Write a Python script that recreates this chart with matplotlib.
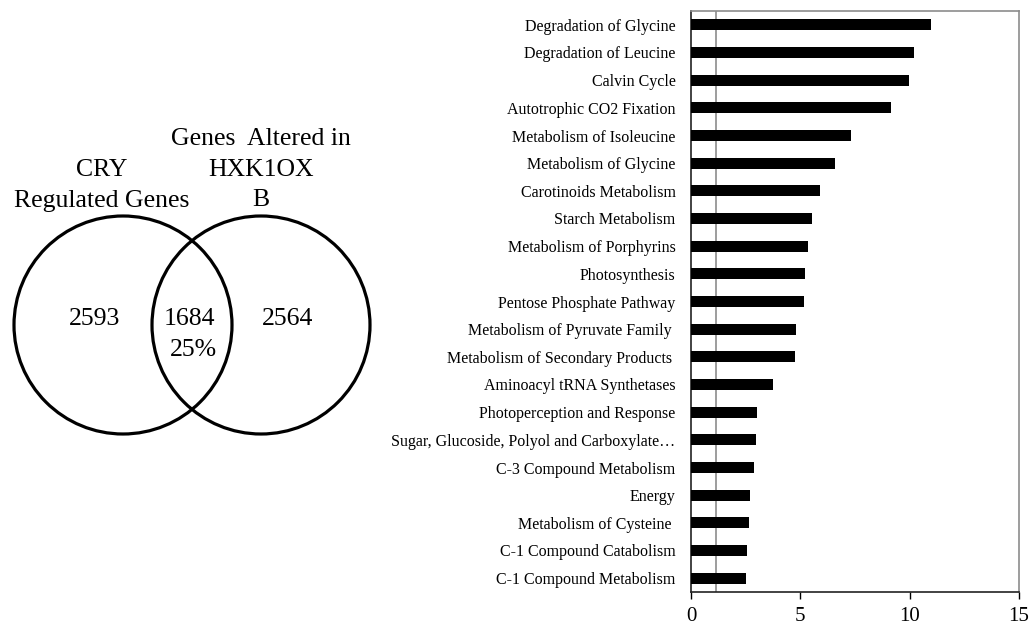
import matplotlib.pyplot as plt
import matplotlib.patches as patches

plt.rcParams['font.family'] = ['Liberation Serif', 'DejaVu Serif']

# Venn counts
cry_only = 2593
shared = 1684
shared_pct = "25%"
hxk_only = 2564
cry_title = ["CRY", "Regulated Genes"]
hxk_title = ["Genes  Altered in", "HXK1OX", "B"]

# enriched pathway categories (top to bottom) and scores
pathways = [
    "Degradation of Glycine",
    "Degradation of Leucine",
    "Calvin Cycle",
    "Autotrophic CO2 Fixation",
    "Metabolism of Isoleucine",
    "Metabolism of Glycine",
    "Carotinoids Metabolism",
    "Starch Metabolism",
    "Metabolism of Porphyrins",
    "Photosynthesis",
    "Pentose Phosphate Pathway",
    "Metabolism of Pyruvate Family ",
    "Metabolism of Secondary Products ",
    "Aminoacyl tRNA Synthetases",
    "Photoperception and Response",
    "Sugar, Glucoside, Polyol and Carboxylate\u2026",
    "C-3 Compound Metabolism",
    "Energy",
    "Metabolism of Cysteine ",
    "C-1 Compound Catabolism",
    "C-1 Compound Metabolism",
]
scores = [10.98, 10.18, 9.98, 9.15, 7.32, 6.60, 5.90, 5.55, 5.35, 5.23, 5.18,
          4.80, 4.74, 3.75, 3.03, 2.97, 2.88, 2.68, 2.65, 2.55, 2.52]
threshold = 1.13
xticks = [0, 5, 10, 15]

fig = plt.figure(figsize=(10.34, 6.25), dpi=100)
fig.patch.set_facecolor('white')

# --- Venn diagram, laid out in pixel units ---
vax = fig.add_axes([0, 0, 1, 1])
vax.set_xlim(0, 1034)
vax.set_ylim(625, 0)
vax.axis('off')
r = 109
left_c = (123, 325)
right_c = (261, 325)
for c in (left_c, right_c):
    vax.add_patch(patches.Circle(c, r, fill=False, edgecolor='black', linewidth=2.3))
fs = 18.5
vax.text(95, 319, str(cry_only), fontsize=fs, ha='center', va='center')
vax.text(189, 319, str(shared), fontsize=fs, ha='center', va='center')
vax.text(193, 350, shared_pct, fontsize=fs, ha='center', va='center')
vax.text(288, 319, str(hxk_only), fontsize=fs, ha='center', va='center')
line_gap = 30.5
for i, line in enumerate(cry_title):
    vax.text(102, 170 + i * line_gap, line, fontsize=fs, ha='center', va='center')
for i, line in enumerate(hxk_title):
    vax.text(261, 139 + i * line_gap, line, fontsize=fs, ha='center', va='center')

# --- horizontal bar chart ---
ax = fig.add_axes([0.6683, 0.0528, 0.3172, 0.9296])
y = list(range(len(pathways)))
ax.barh(y, scores, height=0.4, color='black', zorder=3)
ax.axvline(threshold, color='#8c8c8c', linewidth=1.2, zorder=2)
ax.set_ylim(len(pathways) - 0.5, -0.5)
ax.set_xlim(0, 15)
ax.set_yticks(y)
ax.set_yticklabels(pathways, fontsize=11.5)
ax.set_xticks(xticks)
ax.set_xticklabels([str(t) for t in xticks], fontsize=15)
ax.tick_params(axis='y', length=0, pad=11)
ax.tick_params(axis='x', direction='out', length=5, width=1, pad=6)
for s in ('top', 'right'):
    ax.spines[s].set_color('#8c8c8c')
    ax.spines[s].set_linewidth(1.2)
for s in ('left', 'bottom'):
    ax.spines[s].set_color('#222222')
    ax.spines[s].set_linewidth(1.2)

fig.savefig('out.png', dpi=100, facecolor='white')
